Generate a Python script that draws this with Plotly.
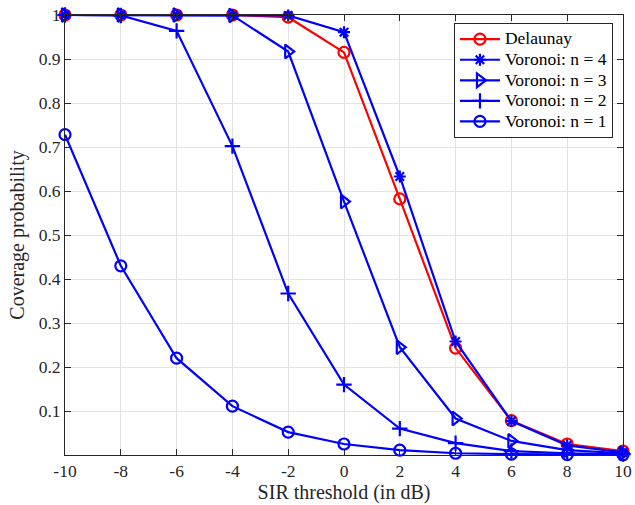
import plotly.graph_objects as go

# SIR thresholds (dB)
sir_db = [-10, -8, -6, -4, -2, 0, 2, 4, 6, 8, 10]
x_tick_text = ["-10", "-8", "-6", "-4", "-2", "0", "2", "4", "6", "8", "10"]

# Coverage probability for each tessellation model
delaunay = [1.0, 1.0, 1.0, 1.0, 0.995, 0.915, 0.582, 0.243, 0.078, 0.025, 0.009]
voronoi_n4 = [1.0, 1.0, 1.0, 1.0, 0.999, 0.961, 0.633, 0.258, 0.077, 0.022, 0.006]
voronoi_n3 = [1.0, 1.0, 1.0, 0.999, 0.917, 0.576, 0.245, 0.083, 0.032, 0.011, 0.004]
voronoi_n2 = [1.0, 0.999, 0.964, 0.702, 0.367, 0.160, 0.060, 0.027, 0.009, 0.004, 0.002]
voronoi_n1 = [0.728, 0.430, 0.220, 0.111, 0.052, 0.025, 0.011, 0.004, 0.002, 0.001, 0.0005]

series_names = ["Delaunay", "Voronoi: n = 4", "Voronoi: n = 3", "Voronoi: n = 2", "Voronoi: n = 1"]

y_ticks = [0.1, 0.2, 0.3, 0.4, 0.5, 0.6, 0.7, 0.8, 0.9, 1.0]
y_tick_text = ["0.1", "0.2", "0.3", "0.4", "0.5", "0.6", "0.7", "0.8", "0.9", "1"]

RED = "#ff0000"
BLUE = "#0000ff"
SERIF = "Liberation Serif, DejaVu Serif"
TEXT = "#262626"

styles = [
    (RED, "circle-open", 11),
    (BLUE, "asterisk-open", 10),
    (BLUE, "triangle-right-open", 12),
    (BLUE, "cross-thin-open", 11),
    (BLUE, "circle-open", 11),
]
values = [delaunay, voronoi_n4, voronoi_n3, voronoi_n2, voronoi_n1]

fig = go.Figure()
for name, vals, (color, symbol, size) in zip(series_names, values, styles):
    fig.add_trace(go.Scatter(
        x=sir_db, y=vals,
        # larger glyphs inside a compact legend row
        name=f"<span style='font-size:17.5px'>{name}</span>",
        mode="lines+markers",
        line=dict(color=color, width=2.2),
        marker=dict(symbol=symbol, size=size, color=color,
                    line=dict(color=color, width=2.2)),
        cliponaxis=False,
    ))

axis_common = dict(
    showgrid=True, gridcolor="#e3e3e3", gridwidth=1,
    showline=True, linecolor=TEXT, linewidth=1, mirror="ticks",
    ticks="inside", ticklen=6, tickcolor=TEXT,
    zeroline=False, automargin=False,
    tickfont=dict(family=SERIF, size=17.5, color=TEXT),
)

fig.update_layout(
    width=635, height=505,
    margin=dict(l=65, r=12, t=15, b=50),
    paper_bgcolor="white", plot_bgcolor="white",
    font=dict(family=SERIF, color=TEXT),
    showlegend=True,
    legend=dict(
        x=0.982, y=0.982, xanchor="right", yanchor="top",
        bgcolor="white", bordercolor=TEXT, borderwidth=1,
        font=dict(family=SERIF, size=13.5, color="#000000"),
        itemwidth=40, tracegroupgap=0,
    ),
    xaxis=dict(
        range=[-10, 10], tickvals=sir_db, ticktext=x_tick_text,
        title=dict(text="SIR threshold (in dB)", standoff=4,
                   font=dict(family=SERIF, size=20, color=TEXT)),
        **axis_common,
    ),
    yaxis=dict(
        range=[0, 1], tickvals=y_ticks, ticktext=y_tick_text,
        title=dict(text="Coverage probability", standoff=8,
                   font=dict(family=SERIF, size=20, color=TEXT)),
        **axis_common,
    ),
)

fig.write_html("out.html")
